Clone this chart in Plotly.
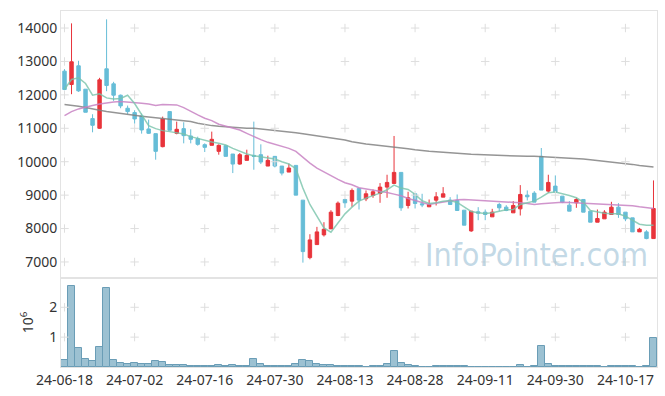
import plotly.graph_objects as go
from plotly.subplots import make_subplots

dates = (
    ["24-06-%02d" % d for d in [18, 19, 20, 21, 24, 25, 26, 27, 28]]
    + ["24-07-%02d" % d for d in [1, 2, 3, 4, 5, 8, 9, 10, 11, 12, 15, 16, 17, 18, 19, 22, 23, 24, 25, 26, 29, 30, 31]]
    + ["24-08-%02d" % d for d in [1, 2, 5, 6, 7, 8, 9, 12, 13, 14, 16, 19, 20, 21, 22, 23, 26, 27, 28, 29, 30]]
    + ["24-09-%02d" % d for d in [2, 3, 4, 5, 6, 9, 10, 11, 12, 13, 19, 20, 23, 24, 25, 26, 27, 30]]
    + ["24-10-%02d" % d for d in [2, 4, 7, 8, 10, 11, 14, 15, 16, 17, 18, 21, 22, 23]]
)

open_ = [12710, 12310, 12870, 12170, 11290, 11000, 12780, 12330, 11990, 11600,
         11470, 11370, 10980, 10840, 10450, 11500, 10850, 10990, 10770, 10690,
         10510, 10490, 10310, 10480, 10230, 9930, 10040, 10190, 10210, 9870,
         10160, 9870, 9690, 9890, 8850, 7130, 7520, 7810, 7990, 8390,
         8870, 8820, 9200, 8890, 8990, 9050, 9240, 9350, 9680, 8690,
         9040, 8740, 8650, 8850, 8940, 8850, 8840, 8550, 7930, 8500,
         8490, 8350, 8720, 8640, 8470, 8590, 9000, 9060, 10160, 9120,
         9270, 8970, 8700, 8770, 8870, 8520, 8190, 8290, 8420, 8640,
         8490, 8320, 7900, 7900, 7700]
high = [12770, 14140, 13020, 12170, 11420, 12510, 14260, 12390, 12010, 11680,
        11540, 11440, 11260, 10840, 11350, 11500, 11200, 11180, 10970, 10750,
        10550, 10900, 10520, 10480, 10230, 10260, 10360, 11200, 10520, 10180,
        10160, 9870, 9940, 9890, 8850, 7830, 8050, 8190, 8550, 8810,
        8890, 9200, 9220, 9140, 9170, 9360, 9610, 10770, 9680, 9100,
        9040, 9040, 8870, 9090, 9240, 8940, 9020, 8550, 8520, 8640,
        8570, 8590, 8770, 8700, 8820, 9300, 9140, 9120, 10410, 9610,
        9590, 8970, 8820, 8920, 8870, 8520, 8570, 8550, 8800, 8760,
        8490, 8320, 8020, 7950, 9440]
low = [12140, 12020, 12090, 11480, 10880, 10980, 12110, 11820, 11600, 11420,
       11140, 10840, 10830, 10060, 10430, 10940, 10820, 10550, 10550, 10480,
       10290, 10490, 10210, 10160, 9660, 9910, 10040, 9760, 9930, 9870,
       9830, 9590, 9690, 9000, 6980, 7080, 7520, 7760, 7990, 8370,
       8620, 8650, 8570, 8820, 8920, 8770, 8920, 9350, 8530, 8600,
       8600, 8640, 8650, 8690, 8940, 8720, 8540, 8100, 7900, 8250,
       8250, 8350, 8520, 8520, 8470, 8390, 8840, 8790, 9150, 9070,
       9090, 8760, 8520, 8620, 8490, 8190, 8190, 8290, 8420, 8320,
       8220, 7900, 7900, 7680, 7700]
close = [12160, 12990, 12120, 11480, 11090, 12450, 12280, 11990, 11670, 11500,
         11280, 10950, 10850, 10310, 11280, 10940, 10970, 10780, 10670, 10520,
         10430, 10670, 10490, 10160, 9930, 10210, 10190, 10160, 9990, 10040,
         9870, 9660, 9810, 9000, 7310, 7660, 7900, 7980, 8490, 8760,
         8770, 9140, 8850, 9040, 9100, 9240, 9380, 9680, 8620, 8920,
         8750, 8710, 8720, 8950, 9040, 8720, 8540, 8100, 8520, 8460,
         8420, 8490, 8620, 8540, 8690, 9020, 8950, 8790, 9150, 9380,
         9090, 8790, 8520, 8870, 8490, 8190, 8300, 8490, 8640, 8420,
         8290, 7900, 7980, 7700, 8600]

ma_short = [12170, 12460, 12510, 12340, 11990, 12030, 11910, 11880, 11890, 11990,
            11740, 11400, 11080, 10990, 10930, 10900, 10870, 10830, 10750, 10690,
            10640, 10590, 10550, 10500, 10400, 10310, 10230, 10180, 10150, 10130,
            10080, 10000, 9930, 9790, 9210, 8720, 8350, 8020, 7890, 8150,
            8440, 8640, 8820, 8910, 8980, 9060, 9160, 9300, 9210, 9170,
            9020, 8830, 8750, 8770, 8820, 8840, 8780, 8650, 8510, 8470,
            8450, 8470, 8520, 8560, 8570, 8720, 8770, 8820, 8940, 9070,
            9090, 9050, 8990, 8920, 8790, 8540, 8490, 8460, 8440, 8440,
            8370, 8240, 8130, 8100, 8100]
ma_mid = [11380, 11500, 11580, 11640, 11680, 11730, 11770, 11790, 11800, 11790,
          11770, 11750, 11730, 11680, 11710, 11710, 11700, 11620, 11500, 11400,
          11300, 11230, 11120, 11060, 11020, 10950, 10850, 10750, 10660, 10580,
          10520, 10460, 10400, 10310, 10130, 9960, 9810, 9690, 9580, 9470,
          9370, 9310, 9220, 9190, 9150, 9110, 9080, 9030, 8980, 8900,
          8840, 8780, 8720, 8760, 8800, 8840, 8860, 8870, 8860, 8850,
          8840, 8830, 8810, 8800, 8790, 8770, 8750, 8720, 8740, 8760,
          8780, 8790, 8780, 8770, 8770, 8760, 8740, 8720, 8720, 8720,
          8700, 8680, 8650, 8620, 8600]
ma_long = [11710, 11690, 11660, 11620, 11590, 11540, 11500, 11470, 11430, 11400,
           11380, 11360, 11340, 11320, 11300, 11280, 11250, 11230, 11200, 11150,
           11110, 11080, 11060, 11040, 11020, 11010, 11000, 11000, 10980, 10960,
           10950, 10920, 10900, 10870, 10840, 10810, 10780, 10750, 10720, 10680,
           10650, 10600, 10560, 10530, 10510, 10490, 10470, 10450, 10420, 10390,
           10360, 10330, 10310, 10300, 10290, 10280, 10260, 10240, 10220, 10210,
           10200, 10190, 10180, 10170, 10170, 10160, 10160, 10160, 10150, 10150,
           10140, 10130, 10110, 10090, 10080, 10060, 10040, 10020, 10000, 9970,
           9950, 9920, 9890, 9860, 9840]

volume = [220000, 2710000, 630000, 270000, 200000, 670000, 2630000, 230000, 130000, 100000,
          130000, 100000, 100000, 200000, 170000, 67000, 67000, 67000, 33000, 33000,
          33000, 33000, 67000, 33000, 67000, 33000, 33000, 270000, 100000, 33000,
          33000, 33000, 33000, 100000, 230000, 200000, 100000, 67000, 67000, 33000,
          33000, 33000, 33000, 0, 33000, 33000, 100000, 540000, 130000, 67000,
          33000, 0, 0, 33000, 33000, 33000, 33000, 33000, 0, 0,
          0, 0, 0, 0, 0, 67000, 0, 33000, 700000, 100000,
          33000, 33000, 33000, 33000, 33000, 33000, 33000, 0, 33000, 33000,
          33000, 33000, 0, 33000, 970000]

price_ticks = [7000, 8000, 9000, 10000, 11000, 12000, 13000, 14000]
price_tick_text = [str(p) for p in price_ticks]
vol_ticks = [1000000, 2000000]
vol_tick_text = ["1", "2"]
x_ticks = dates[::10]

fig = make_subplots(rows=2, cols=1, shared_xaxes=True, vertical_spacing=0,
                    row_heights=[0.75, 0.25])

fig.add_trace(go.Candlestick(
    x=dates, open=open_, high=high, low=low, close=close,
    increasing=dict(line=dict(color="#e8343b", width=1), fillcolor="#e8343b"),
    decreasing=dict(line=dict(color="#66bdd7", width=1), fillcolor="#66bdd7"),
    whiskerwidth=0, showlegend=False), row=1, col=1)

fig.add_trace(go.Scatter(x=dates, y=ma_long, mode="lines",
                         line=dict(color="rgba(130,130,130,0.85)", width=1.5),
                         showlegend=False), row=1, col=1)
fig.add_trace(go.Scatter(x=dates, y=ma_mid, mode="lines",
                         line=dict(color="rgba(200,130,195,0.85)", width=1.5),
                         showlegend=False), row=1, col=1)
fig.add_trace(go.Scatter(x=dates, y=ma_short, mode="lines",
                         line=dict(color="rgba(120,195,170,0.8)", width=1.5),
                         showlegend=False), row=1, col=1)

fig.add_trace(go.Bar(x=dates, y=volume,
                     marker=dict(color="#9cc1d2", line=dict(color="#6a9db6", width=1)),
                     showlegend=False), row=2, col=1)

grid_style = dict(symbol="cross-thin", size=6, line=dict(color="#dedede", width=1))
fig.add_trace(go.Scatter(
    x=[d for d in x_ticks for _ in price_ticks],
    y=[p for _ in x_ticks for p in price_ticks],
    mode="markers", marker=grid_style, hoverinfo="skip", showlegend=False), row=1, col=1)
fig.add_trace(go.Scatter(
    x=[d for d in x_ticks for _ in vol_ticks],
    y=[v for _ in x_ticks for v in vol_ticks],
    mode="markers", marker=grid_style, hoverinfo="skip", showlegend=False), row=2, col=1)

axis_font = dict(family="Noto Sans", size=14, color="#333333")
frame = dict(showline=True, linecolor="#e3e3e3", linewidth=1, mirror=True,
             showgrid=False, zeroline=False, ticks="", tickfont=axis_font,
             automargin=False)

fig.update_xaxes(type="category", categoryorder="array", categoryarray=dates,
                 range=[-0.5, len(dates) - 0.5],
                 rangeslider=dict(visible=False), tickmode="array",
                 tickvals=x_ticks, ticktext=x_ticks, tickangle=0, **frame)
fig.update_xaxes(showticklabels=False, row=1, col=1)
fig.update_yaxes(range=[6520, 14510], tickmode="array", tickvals=price_ticks,
                 ticktext=price_tick_text, row=1, col=1, **frame)
fig.update_yaxes(range=[0, 2980000], tickmode="array", tickvals=vol_ticks,
                 ticktext=vol_tick_text, title=dict(text="10<sup>6</sup>",
                 font=axis_font, standoff=12), row=2, col=1, **frame)

fig.add_annotation(text="InfoPointer.com", xref="paper", yref="paper",
                   x=0.988, y=0.315, xanchor="right", yanchor="middle",
                   showarrow=False,
                   font=dict(family="Liberation Sans Narrow, DejaVu Sans Condensed, Roboto",
                             size=32, color="rgba(155,192,213,0.6)"))

fig.update_layout(width=665, height=396, margin=dict(l=61, r=8, t=11, b=29),
                  paper_bgcolor="white", plot_bgcolor="white", bargap=0,
                  hovermode=False)

fig.write_html("out.html", config={"displayModeBar": False},
               post_script="document.body.style.margin='0';document.body.style.overflow='hidden';")
